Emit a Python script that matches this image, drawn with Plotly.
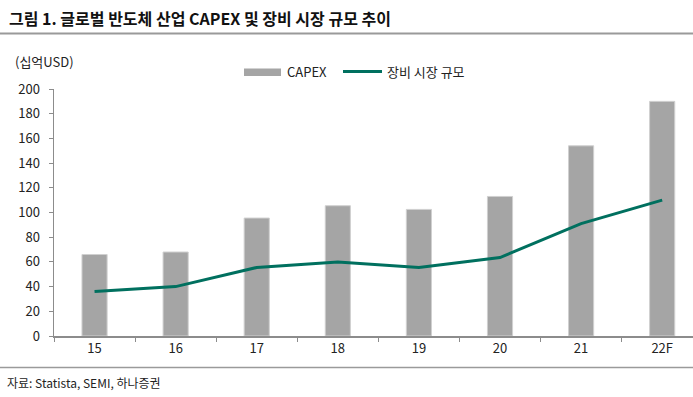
import plotly.graph_objects as go

categories = ["15", "16", "17", "18", "19", "20", "21", "22F"]
capex = [66, 68, 95.5, 105.5, 102.5, 113, 154, 190]
equipment = [36, 40, 55.5, 60, 55.5, 63.5, 91, 110]
y_ticks = [0, 20, 40, 60, 80, 100, 120, 140, 160, 180, 200]

W, H = 693, 397
L, R, T, B = 54, 0, 89, 61
PW = W - L - R
PH = H - T - B

def px(x):
    return (x - L) / PW

def py(y):
    return (H - B - y) / PH

FONT = "Noto Sans CJK KR"
GREY_BAR = "#a5a5a5"
GREEN = "#00705f"
AXIS = "#8c8c8c"

fig = go.Figure()
fig.add_trace(go.Bar(
    x=categories, y=capex, name="CAPEX",
    marker=dict(color=GREY_BAR, line=dict(color="#d0d0d0", width=1)),
    width=0.31, showlegend=False,
))
fig.add_trace(go.Scatter(
    x=categories, y=equipment, name="장비 시장 규모", mode="lines",
    line=dict(color=GREEN, width=3), showlegend=False,
))

fig.update_layout(
    width=W, height=H,
    margin=dict(l=L, r=R, t=T, b=B, autoexpand=False),
    paper_bgcolor="white", plot_bgcolor="white",
    font=dict(family=FONT, size=13, color="#222"),
    hovermode=False,
    xaxis=dict(
        type="category", range=[-0.5, 7.38], automargin=False,
        showline=True, linecolor=AXIS, linewidth=1.5,
        ticks="outside", tickson="boundaries", ticklen=4, tickcolor=AXIS, tickwidth=1,
        showgrid=False, tickfont=dict(size=13, color="#222"),
    ),
    yaxis=dict(
        range=[0, 200], tickvals=y_ticks, automargin=False,
        showline=True, linecolor=AXIS, linewidth=1.5,
        ticks="outside", ticklen=4, tickcolor=AXIS, tickwidth=1,
        showgrid=False, zeroline=False, tickfont=dict(size=13, color="#222"),
        ticklabelstandoff=6,
    ),
)

shapes = [
    dict(type="line", xref="paper", yref="paper", x0=px(0), x1=px(W), y0=py(33.5), y1=py(33.5),
         line=dict(color="#9a9a9a", width=2)),
    dict(type="line", xref="paper", yref="paper", x0=px(0), x1=px(W), y0=py(367.5), y1=py(367.5),
         line=dict(color="#9a9a9a", width=1.5)),
    dict(type="rect", xref="paper", yref="paper", x0=px(244), x1=px(281), y0=py(76), y1=py(68.5),
         fillcolor=GREY_BAR, line=dict(width=0)),
    dict(type="line", xref="paper", yref="paper", x0=px(343), x1=px(382), y0=py(71.5), y1=py(71.5),
         line=dict(color=GREEN, width=3)),
]
annotations = [
    dict(text="<b>그림 1. 글로벌 반도체 산업 CAPEX 및 장비 시장 규모 추이</b>", xref="paper", yref="paper",
         x=px(7), y=py(18), xanchor="left", yanchor="middle", showarrow=False,
         font=dict(size=16, color="#111", family=FONT)),
    dict(text="(십억USD)", xref="paper", yref="paper", x=px(13), y=py(62), xanchor="left",
         yanchor="middle", showarrow=False, font=dict(size=13, color="#222")),
    dict(text="CAPEX", xref="paper", yref="paper", x=px(285), y=py(72), xanchor="left",
         yanchor="middle", showarrow=False, font=dict(size=13, color="#222")),
    dict(text="장비 시장 규모", xref="paper", yref="paper", x=px(385), y=py(72), xanchor="left",
         yanchor="middle", showarrow=False, font=dict(size=13, color="#222")),
    dict(text="자료: Statista, SEMI, 하나증권", xref="paper", yref="paper", x=px(5), y=py(382),
         xanchor="left", yanchor="middle", showarrow=False, font=dict(size=12, color="#222")),
]
fig.update_layout(shapes=shapes, annotations=annotations)

fig.write_html(
    "out.html",
    config={"displayModeBar": False, "staticPlot": True},
    post_script="document.body.style.margin='0';document.body.style.padding='0';document.body.style.overflow='hidden';",
)
